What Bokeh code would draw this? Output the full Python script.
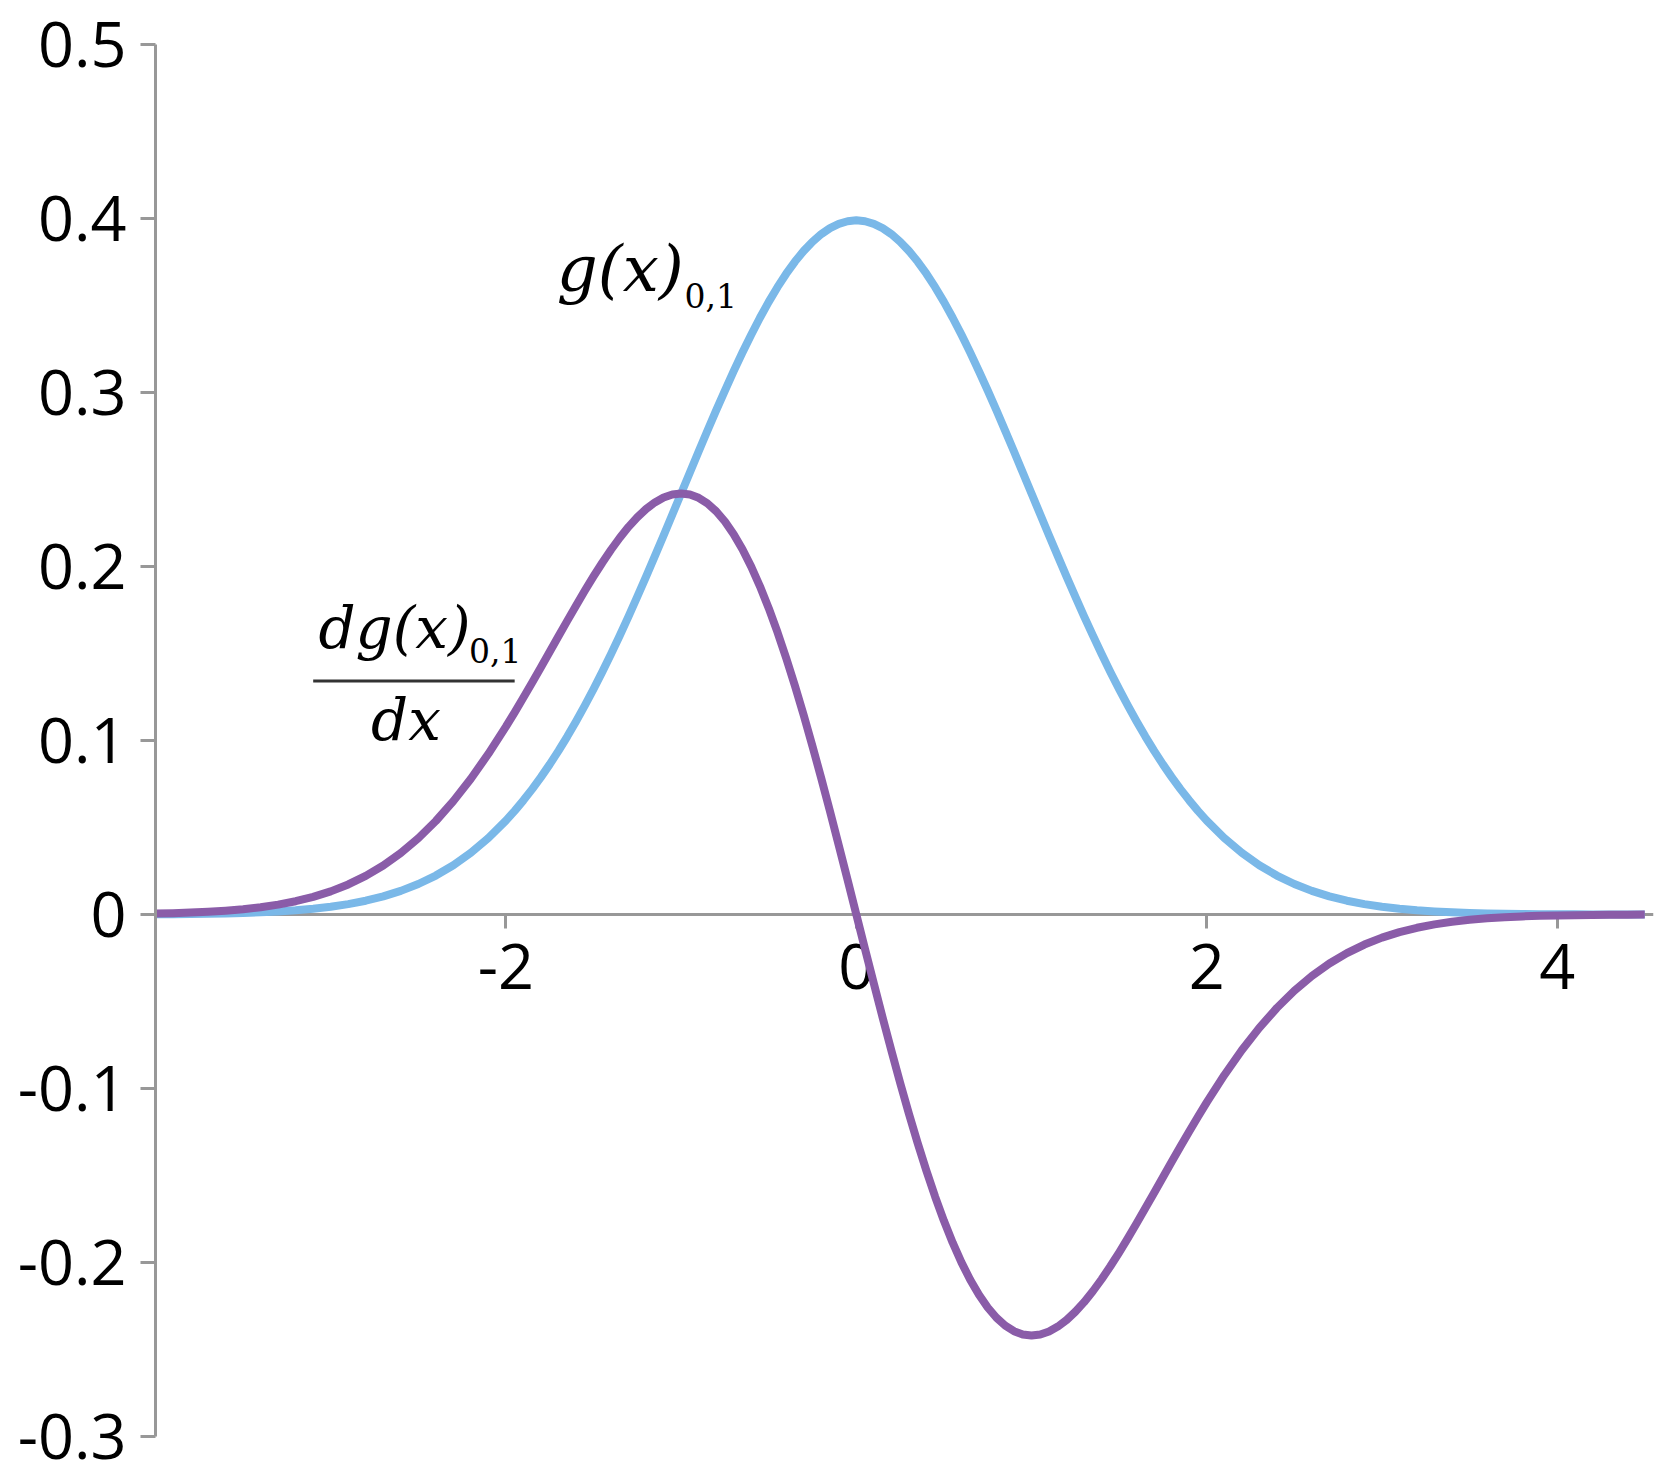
from bokeh.plotting import figure
from bokeh.models import Range1d, FixedTicker, Label
from bokeh.embed import file_html
from bokeh.resources import INLINE

# ---- data ----
x_vals = [-4.0, -3.9, -3.8, -3.7, -3.6, -3.5, -3.4, -3.3, -3.2, -3.1,
          -3.0, -2.9, -2.8, -2.7, -2.6, -2.5, -2.4, -2.3, -2.2, -2.1,
          -2.0, -1.95, -1.9, -1.85, -1.8, -1.75, -1.7, -1.65, -1.6, -1.55,
          -1.5, -1.45, -1.4, -1.35, -1.3, -1.25, -1.2, -1.15, -1.1, -1.05,
          -1.0, -0.95, -0.9, -0.85, -0.8, -0.75, -0.7, -0.65, -0.6, -0.55,
          -0.5, -0.45, -0.4, -0.35, -0.3, -0.25, -0.2, -0.15, -0.1, -0.05,
          0.0, 0.05, 0.1, 0.15, 0.2, 0.25, 0.3, 0.35, 0.4, 0.45,
          0.5, 0.55, 0.6, 0.65, 0.7, 0.75, 0.8, 0.85, 0.9, 0.95,
          1.0, 1.05, 1.1, 1.15, 1.2, 1.25, 1.3, 1.35, 1.4, 1.45,
          1.5, 1.55, 1.6, 1.65, 1.7, 1.75, 1.8, 1.85, 1.9, 1.95,
          2.0, 2.1, 2.2, 2.3, 2.4, 2.5, 2.6, 2.7, 2.8, 2.9,
          3.0, 3.1, 3.2, 3.3, 3.4, 3.5, 3.6, 3.7, 3.8, 3.9,
          4.0, 4.1, 4.2, 4.3, 4.4, 4.5]

g_vals = [0.00013, 0.00020, 0.00029, 0.00042, 0.00061, 0.00087, 0.00123, 0.00172, 0.00238, 0.00327,
          0.00443, 0.00595, 0.00792, 0.01042, 0.01358, 0.01753, 0.02239, 0.02833, 0.03547, 0.04398,
          0.05399, 0.05959, 0.06562, 0.07207, 0.07895, 0.08628, 0.09405, 0.10226, 0.11092, 0.12001,
          0.12952, 0.13943, 0.14973, 0.16038, 0.17137, 0.18265, 0.19419, 0.20594, 0.21785, 0.22988,
          0.24197, 0.25406, 0.26609, 0.27798, 0.28969, 0.30114, 0.31225, 0.32297, 0.33322, 0.34294,
          0.35207, 0.36053, 0.36827, 0.37524, 0.38139, 0.38667, 0.39104, 0.39448, 0.39695, 0.39844,
          0.39894, 0.39844, 0.39695, 0.39448, 0.39104, 0.38667, 0.38139, 0.37524, 0.36827, 0.36053,
          0.35207, 0.34294, 0.33322, 0.32297, 0.31225, 0.30114, 0.28969, 0.27798, 0.26609, 0.25406,
          0.24197, 0.22988, 0.21785, 0.20594, 0.19419, 0.18265, 0.17137, 0.16038, 0.14973, 0.13943,
          0.12952, 0.12001, 0.11092, 0.10226, 0.09405, 0.08628, 0.07895, 0.07207, 0.06562, 0.05959,
          0.05399, 0.04398, 0.03547, 0.02833, 0.02239, 0.01753, 0.01358, 0.01042, 0.00792, 0.00595,
          0.00443, 0.00327, 0.00238, 0.00172, 0.00123, 0.00087, 0.00061, 0.00042, 0.00029, 0.00020,
          0.00013, 0.00009, 0.00006, 0.00004, 0.00002, 0.00002]

dg_vals = [0.00054, 0.00078, 0.00110, 0.00155, 0.00220, 0.00305, 0.00418, 0.00568, 0.00762, 0.01014,
           0.01329, 0.01726, 0.02218, 0.02813, 0.03531, 0.04382, 0.05374, 0.06516, 0.07803, 0.09236,
           0.10798, 0.11621, 0.12468, 0.13332, 0.14211, 0.15098, 0.15989, 0.16874, 0.17747, 0.18601,
           0.19428, 0.20217, 0.20962, 0.21652, 0.22278, 0.22831, 0.23303, 0.23683, 0.23964, 0.24138,
           0.24197, 0.24136, 0.23948, 0.23629, 0.23175, 0.22585, 0.21857, 0.20993, 0.19993, 0.18862,
           0.17603, 0.16224, 0.14731, 0.13133, 0.11442, 0.09667, 0.07821, 0.05917, 0.03970, 0.01992,
           0.0, -0.01992, -0.03970, -0.05917, -0.07821, -0.09667, -0.11442, -0.13133, -0.14731, -0.16224,
           -0.17603, -0.18862, -0.19993, -0.20993, -0.21857, -0.22585, -0.23175, -0.23629, -0.23948, -0.24136,
           -0.24197, -0.24138, -0.23964, -0.23683, -0.23303, -0.22831, -0.22278, -0.21652, -0.20962, -0.20217,
           -0.19428, -0.18601, -0.17747, -0.16874, -0.15989, -0.15098, -0.14211, -0.13332, -0.12468, -0.11621,
           -0.10798, -0.09236, -0.07803, -0.06516, -0.05374, -0.04382, -0.03531, -0.02813, -0.02218, -0.01726,
           -0.01329, -0.01014, -0.00762, -0.00568, -0.00418, -0.00305, -0.00220, -0.00155, -0.00110, -0.00078,
           -0.00054, -0.00037, -0.00025, -0.00017, -0.00011, -0.00007]

x_ticks = [-2, 0, 2, 4]
x_tick_labels = ["-2", "0", "2", "4"]
y_ticks = [-0.3, -0.2, -0.1, 0, 0.1, 0.2, 0.3, 0.4, 0.5]
y_tick_labels = ["-0.3", "-0.2", "-0.1", "0", "0.1", "0.2", "0.3", "0.4", "0.5"]

BLUE = "#7ab8e8"
PURPLE = "#8a5ca8"
AXIS = "#989898"
FONT = "Open Sans"

p = figure(width=1665, height=1479, output_backend="svg", toolbar_location=None,
           x_range=Range1d(-4, 4.55), y_range=Range1d(-0.3, 0.5),
           min_border_left=155, min_border_right=12, min_border_top=44, min_border_bottom=43)
p.outline_line_color = None
p.xgrid.visible = False
p.ygrid.visible = False
p.background_fill_color = "white"

# axes
p.xaxis.fixed_location = 0
p.xaxis.level = "underlay"
p.xaxis.ticker = FixedTicker(ticks=x_ticks)
p.xaxis.major_label_overrides = {t: l for t, l in zip(x_ticks, x_tick_labels)}
p.yaxis.ticker = FixedTicker(ticks=y_ticks)
p.yaxis.major_label_overrides = {t: l for t, l in zip(y_ticks, y_tick_labels)}
for ax in (p.xaxis, p.yaxis):
    ax.axis_line_color = AXIS
    ax.axis_line_width = 3
    ax.major_tick_line_color = AXIS
    ax.major_tick_line_width = 3
    ax.major_tick_in = 0
    ax.minor_tick_line_color = None
    ax.major_label_text_font = FONT
    ax.major_label_text_font_size = "63px"
    ax.major_label_text_color = "black"
p.yaxis.major_tick_out = 15
p.yaxis.major_label_standoff = 14
p.xaxis.major_tick_out = 14
p.xaxis.major_label_standoff = 15

# curves
p.line(x_vals, g_vals, line_color=BLUE, line_width=8, line_join="round")
p.line(x_vals, dg_vals, line_color=PURPLE, line_width=8, line_join="round")

# annotations
SERIF = "DejaVu Serif"
def lab(x, y, text, size, style="italic"):
    p.add_layout(Label(x=x, y=y, text=text, text_font=SERIF, text_font_style=style,
                       text_font_size=size, text_color="black", text_baseline="alphabetic",
                       text_align="left"))

lab(-1.71, 0.371, "g(x)", "64px")
lab(-0.98, 0.356, "0,1", "33px", "normal")
lab(-3.07, 0.1647, "dg(x)", "58px")
lab(-2.21, 0.152, "0,1", "33px", "normal")
p.segment(x0=[-3.10], y0=[0.1342], x1=[-1.95], y1=[0.1342], line_color="#333333", line_width=3)
lab(-2.77, 0.1117, "dx", "58px")

open("out.html", "w").write(file_html(p, INLINE))
